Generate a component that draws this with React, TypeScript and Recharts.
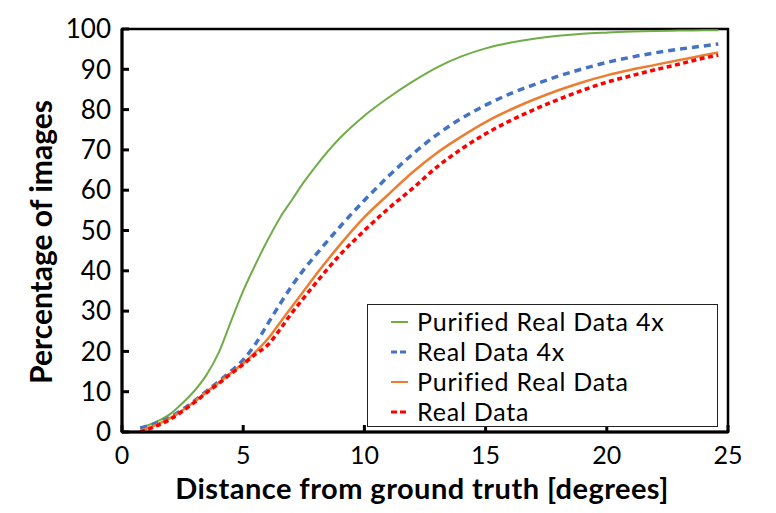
import React from "react";
import {
  LineChart,
  Line,
  XAxis,
  YAxis,
  Legend,
  ReferenceArea,
} from "recharts";

// distance from ground truth [degrees]
const distances = [
  0.75, 1, 1.5, 2, 2.5, 3, 3.5, 4, 4.5, 5, 5.5, 6, 6.5, 7, 7.5, 8, 9, 10, 11,
  12, 13, 14, 15, 16, 17, 18, 19, 20, 21, 22, 23, 24, 24.6,
];

const purifiedReal4x = [
  1, 1.5, 2.8, 4.5, 7.2, 10.3, 14.3, 19.8, 27.5, 35, 41.5, 47.5, 53, 57.5, 62,
  66, 73, 78.5, 83, 87, 90.5, 93.2, 95.2, 96.6, 97.6, 98.3, 98.8, 99.1, 99.35,
  99.5, 99.6, 99.7, 99.7,
];

const real4x = [
  1, 1.4, 2.3, 3.7, 5.6, 7.8, 10.2, 12.6, 15.1, 17.9, 21.8, 26.7, 31.6, 36.2,
  40.3, 44, 51, 57.5, 63.5, 69, 73.8, 77.8, 81.1, 83.9, 86.2, 88.3, 90.1, 91.7,
  93, 94.1, 95, 95.8, 96.3,
];

const purifiedReal = [
  0.3, 0.8, 2, 3.5, 5.4, 7.6, 10, 12.3, 14.7, 17, 19.8, 23, 27, 31, 35, 39,
  46.5, 53.3, 59, 64.5, 69.3, 73.3, 76.9, 79.9, 82.5, 84.8, 86.8, 88.5, 89.9,
  91.1, 92.3, 93.5, 94.2,
];

const real = [
  0, 0.5, 1.7, 3.2, 5.2, 7.4, 9.8, 12.1, 14.5, 16.8, 19.3, 21.5, 25.3, 29.5,
  33.3, 37, 44, 50, 55.5, 60.5, 65.8, 70.2, 74, 77.2, 80, 82.5, 84.8, 86.8,
  88.4, 89.9, 91.3, 92.8, 93.5,
];

const xTicks = [0, 5, 10, 15, 20, 25];
const yTicks = [0, 10, 20, 30, 40, 50, 60, 70, 80, 90, 100];

const series = [
  { key: "g4x", name: "Purified Real Data 4x", color: "#70AD47", width: 2, dash: undefined },
  { key: "r4x", name: "Real Data 4x", color: "#4472C4", width: 3.5, dash: "7 5" },
  { key: "g1x", name: "Purified Real Data", color: "#ED7D31", width: 2.5, dash: undefined },
  { key: "r1x", name: "Real Data", color: "#FF0000", width: 3.5, dash: "5 3.5" },
];

const data = distances.map((d, i) => ({
  d,
  g4x: purifiedReal4x[i],
  r4x: real4x[i],
  g1x: purifiedReal[i],
  r1x: real[i],
}));

const font = "Lato, 'Open Sans', sans-serif";

function LegendBox() {
  return (
    <div
      style={{
        border: "1.5px solid #222",
        background: "#fff",
        padding: "1px 0",
        fontFamily: font,
        fontSize: 25,
        lineHeight: "30px",
        color: "#000",
        boxSizing: "border-box",
        height: 123,
      }}
    >
      {series.map((s) => (
        <div key={s.key} style={{ display: "flex", alignItems: "center", height: 30 }}>
          <svg width={49} height={30} style={{ flex: "none" }}>
            <line
              x1={23}
              x2={40}
              y1={16}
              y2={16}
              stroke={s.color}
              strokeWidth={s.dash ? 3 : 2}
              strokeDasharray={s.dash ? "6 3" : undefined}
            />
          </svg>
          <span style={{ whiteSpace: "nowrap", letterSpacing: 0.8 }}>{s.name}</span>
        </div>
      ))}
    </div>
  );
}

export default function App() {
  return (
    <div style={{ width: 768, height: 505, background: "#fff" }}>
      <LineChart
        width={768}
        height={505}
        data={data}
        margin={{ top: 21, right: 48, left: 0, bottom: 0 }}
      >
        <XAxis
          dataKey="d"
          type="number"
          domain={[0, 25]}
          ticks={xTicks}
          height={81}
          axisLine={{ stroke: "#000", strokeWidth: 3 }}
          tickLine={{ stroke: "#000", strokeWidth: 3 }}
          tickSize={-7}
          tickMargin={21}
          tick={{ fill: "#000", fontSize: 25, fontFamily: font }}
          label={{
            content: () => (
              <text
                x={414}
                y={491}
                textAnchor="middle"
                fontFamily={font}
                fontWeight={700}
                fontSize={29}
                letterSpacing={0.45}
                fill="#000"
              >
                Distance from ground truth [degrees]
              </text>
            ),
          }}
        />
        <YAxis
          type="number"
          domain={[0, 100]}
          ticks={yTicks}
          width={114}
          interval={0}
          axisLine={{ stroke: "#000", strokeWidth: 3 }}
          tickLine={{ stroke: "#000", strokeWidth: 3 }}
          tickSize={-7}
          tickMargin={18}
          tick={{ fill: "#000", fontSize: 26, fontFamily: font }}
          label={{
            content: () => (
              <text
                transform="translate(32,234) rotate(-90)"
                textAnchor="middle"
                dominantBaseline="central"
                fontFamily={font}
                fontWeight={700}
                fontSize={30}
                fill="#000"
              >
                Percentage of images
              </text>
            ),
          }}
        />
        <ReferenceArea
          x1={0}
          x2={25}
          y1={0}
          y2={100}
          fill="none"
          stroke="#000"
          strokeWidth={2.5}
          ifOverflow="visible"
        />
        {series.map((s) => (
          <Line
            key={s.key}
            dataKey={s.key}
            name={s.name}
            type="monotone"
            stroke={s.color}
            strokeWidth={s.width}
            strokeDasharray={s.dash}
            dot={false}
            activeDot={false}
            isAnimationActive={false}
          />
        ))}
        <Legend
          layout="vertical"
          align="center"
          verticalAlign="middle"
          content={() => <LegendBox />}
          wrapperStyle={{ position: "absolute", left: 359, top: 296, width: 351 }}
        />
      </LineChart>
    </div>
  );
}
